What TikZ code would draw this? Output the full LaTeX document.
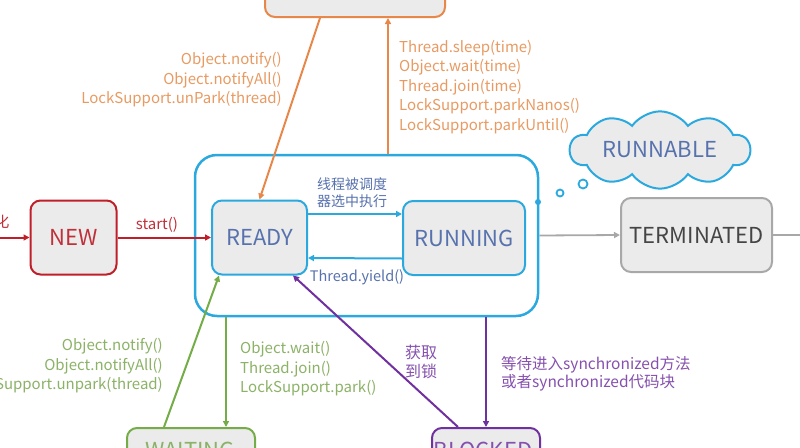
\documentclass[tikz,border=0pt]{standalone}
\usepackage{fontspec}
\setmainfont{Noto Sans CJK SC}
\usetikzlibrary{arrows.meta,shapes.symbols}
\definecolor{cOr}{HTML}{E8874A}
\definecolor{cOrT}{HTML}{E89A62}
\definecolor{cBl}{HTML}{2BA9DF}
\definecolor{cBlT}{HTML}{5872AE}
\definecolor{cRd}{HTML}{C01F2A}
\definecolor{cRdT}{HTML}{C0303A}
\definecolor{cGr}{HTML}{74AD48}
\definecolor{cGrT}{HTML}{8BB266}
\definecolor{cPu}{HTML}{7030A0}
\definecolor{cPuT}{HTML}{8550AE}
\definecolor{cGy}{HTML}{A8A8A8}
\definecolor{cGyT}{HTML}{454545}
\definecolor{cFill}{HTML}{EBEBEB}
\begin{document}
\begin{tikzpicture}[x=1pt,y=-1pt,
  state/.style={draw, fill=cFill, rounded corners=10pt, line width=2pt, inner sep=0pt,
    font=\fontsize{22}{26}\selectfont},
  arr/.style={line width=2pt, -{Triangle[length=6pt,width=6pt]}},
  lbl/.style={font=\fontsize{15}{19.5}\selectfont, inner sep=0pt},
  big/.style={font=\fontsize{22}{26}\selectfont, inner sep=0pt}]
\useasboundingbox (0,0) rectangle (800,447);
\clip (0,0) rectangle (800,447);

% RUNNABLE container
\node[draw=cBl, fill=white, line width=2.5pt, rounded corners=22pt,
  minimum width=343pt, minimum height=161pt] (RUN) at (366.5,235.5) {};

% states
\node[state, draw=cOr, minimum width=180pt, minimum height=74pt] (TW) at (355,-20) {};
\node[state, draw=cRd, text=cRdT, minimum width=86pt, minimum height=74pt] (NEW) at (73.5,237.5) {NEW};
\node[state, draw=cBl, text=cBlT, minimum width=95pt, minimum height=74pt] (READY) at (259.5,237.5) {READY};
\node[state, draw=cBl, text=cBlT, minimum width=122pt, minimum height=74pt] (RUNNING) at (464,238) {RUNNING};
\node[state, draw=cGy, text=cGyT, minimum width=151pt, minimum height=74pt] (TERM) at (696.5,235) {TERMINATED};
\node[state, draw=cGr, minimum width=128pt, minimum height=74pt] (WAIT) at (191,465) {};
\node[state, draw=cPu, minimum width=108pt, minimum height=74pt] (BLK) at (486,465) {};
\node[big, text=cGrT, anchor=base] (waitT) at (190,458) {WAITING};
\node[big, text=cPuT, anchor=base] (blkT) at (483,458) {BLOCKED};

% cloud
\node[cloud, cloud puffs=10, cloud puff arc=110, aspect=3, draw=cBl, fill=cFill,
  line width=2pt, minimum width=180pt, minimum height=56pt, inner sep=0pt,
  text=cBlT, font=\fontsize{22}{26}\selectfont] (cl) at (660,150) {RUNNABLE};
\node[circle, draw=cBl, line width=1.8pt, minimum size=7pt, inner sep=0pt] (b1) at (560,193) {};
\node[circle, draw=cBl, line width=1.8pt, minimum size=9pt, inner sep=0pt] (b2) at (583,184) {};
\node[circle, fill=cBl, minimum size=6pt, inner sep=0pt] (dot) at (538,202) {};

% left entry
\coordinate (in) at (-10,237.5);
\node[lbl, text=cRdT, font=\fontsize{15}{18}\selectfont] (hua) at (2,222) {化};
\draw[arr, cRd] (in) -- (NEW.west);
\draw[arr, cRd] (NEW.east) -- (READY.west);
\node[lbl, text=cRdT] (startL) at (157,225) {start()};

% ready <-> running
\draw[arr, cBl] ([yshift=23.5pt]READY.east) -- ([yshift=24pt]RUNNING.west);
\draw[arr, cBl] ([yshift=-20.5pt]RUNNING.west) -- ([yshift=-20.5pt]READY.east);
\node[inner sep=0pt, text=cBlT, align=center, font=\fontsize{14}{17}\selectfont] (schedL) at (352,193) {线程被调度\\器选中执行};
\node[inner sep=0pt, text=cBlT, font=\fontsize{14.5}{18}\selectfont] (yieldL) at (357,277) {Thread.yield()};

% terminated
\coordinate (outT) at (812,235);
\draw[arr, cGy, line width=1.8pt] (RUN.east) -- (TERM.west);
\draw[cGy, line width=1.8pt] (TERM.east) -- (outT);

% timed waiting
\draw[arr, cOr] ([xshift=-35pt]TW.south) -- (READY.north);
\draw[arr, cOr] ([xshift=21.5pt]RUN.north) -- ([xshift=21.5pt]RUN.north |- TW.south);
\node[lbl, text=cOrT, align=right, anchor=east] (orL) at (282,80)
  {Object.notify()\\Object.notifyAll()\\LockSupport.unPark(thread)};
\node[lbl, text=cOrT, align=left, anchor=west] (orR) at (399,87)
  {Thread.sleep(time)\\Object.wait(time)\\Thread.join(time)\\LockSupport.parkNanos()\\LockSupport.parkUntil()};

% waiting
\draw[arr, cGr] ([xshift=-27pt]WAIT.north) -- ([xshift=-40.5pt]READY.south);
\draw[arr, cGr] ([xshift=-140.5pt]RUN.south) -- ([xshift=-140.5pt]RUN.south |- WAIT.north);
\node[lbl, text=cGrT, align=right, anchor=east] (grL) at (163,366)
  {Object.notify()\\Object.notifyAll()\\LockSupport.unpark(thread)};
\node[lbl, text=cGrT, align=left, anchor=west] (grR) at (240,369)
  {Object.wait()\\Thread.join()\\LockSupport.park()};

% blocked
\draw[arr, cPu] ([xshift=-28pt]BLK.north) -- ([xshift=33.5pt]READY.south);
\draw[arr, cPu] ([xshift=119.5pt]RUN.south) -- (BLK.north);
\node[lbl, text=cPuT, align=center, font=\fontsize{16}{18.5}\selectfont] (lockL) at (421,362) {获取\\到锁};
\node[lbl, text=cPuT, align=left, anchor=west, font=\fontsize{15.5}{18.5}\selectfont] (syncL) at (501,374)
  {等待进入synchronized方法\\或者synchronized代码块};
\end{tikzpicture}
\end{document}
